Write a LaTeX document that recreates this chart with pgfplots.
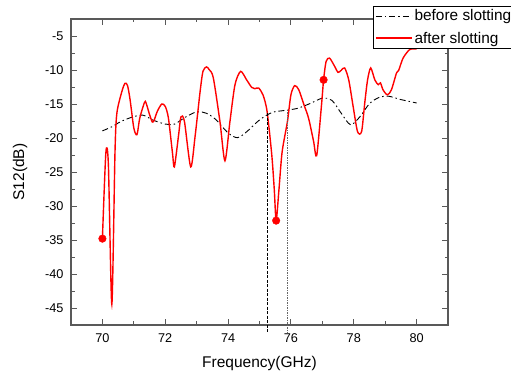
\documentclass[border=0pt]{standalone}
\usepackage{pgfplots}
\pgfplotsset{compat=1.18}
\usepackage{fontspec}
\setmainfont{Liberation Sans}
\definecolor{redline}{RGB}{255,0,0}
\begin{document}
\begin{tikzpicture}
\begin{axis}[
  scale only axis, width=377pt, height=306pt,
  xmin=69, xmax=81, ymin=-47.45, ymax=-2.45,
  xtick={70,72,...,80}, minor x tick num=1,
  ytick={-45,-40,...,-5}, minor y tick num=1,
  tick align=inside,
  major tick length=6pt, minor tick length=3.5pt,
  axis line style={draw=black!65, line width=1.2pt},
  every tick/.style={black!65, line width=0.9pt},
  /pgf/number format/assume math mode=true,
  ticklabel style={font=\fontsize{12.7}{14}\selectfont},
  xticklabel style={anchor=base, yshift=-17.7pt},
  yticklabel style={xshift=-4pt},
  xlabel={Frequency(GHz)}, ylabel={S12(dB)},
  every axis x label/.style={at={(axis description cs:0.5,0)}, yshift=-43pt, anchor=base, font=\fontsize{15.5}{18}\selectfont},
  every axis y label/.style={at={(axis description cs:0,0.5)}, xshift=-51pt, rotate=90, anchor=center, font=\fontsize{15.5}{18}\selectfont},
  clip=false,
  legend style={at={(0.801,1.0425)}, anchor=north west, font=\fontsize{15.4}{18}\selectfont,
     draw=black, inner xsep=2pt, inner ysep=1.5pt, nodes={inner sep=2pt}, row sep=5.5pt},
  legend image code/.code={\draw[#1] (0pt,0pt) -- (36pt,0pt);},
  legend cell align=left,
]
\addplot[black, line width=0.9pt, dash pattern=on 6pt off 3pt on 1.5pt off 3pt, smooth] coordinates {
(70.0,-18.9) (70.3,-18.3) (70.6,-17.5) (71.0,-16.8) (71.3,-16.6) (71.6,-17.3)
(72.0,-17.9) (72.3,-17.9) (72.6,-17.0) (73.0,-16.1) (73.3,-16.3) (73.6,-17.2)
(74.0,-19.2) (74.3,-19.9) (74.6,-19.0) (75.0,-17.3) (75.4,-16.2) (75.8,-15.9)
(76.2,-15.6) (76.6,-14.9) (77.0,-14.1) (77.3,-14.4) (77.6,-16.3) (77.9,-18.0)
(78.2,-16.8) (78.5,-14.9) (78.8,-14.0) (79.1,-13.8) (79.5,-14.3) (80.0,-14.8)
};
\addlegendentry{before slotting}
\addplot[redline, line width=1.4pt, smooth, tension=0.45] coordinates {
(70.00,-34.75) (70.11,-22.1) (70.19,-23.9) (70.30,-44.4) (70.40,-22.1) (70.46,-16.3)
(70.62,-13.1) (70.72,-11.9) (70.80,-12.25) (70.88,-14.3) (71.00,-18.5) (71.10,-19.45)
(71.19,-17.0) (71.34,-14.7) (71.39,-14.8) (71.50,-16.5) (71.59,-17.6) (71.65,-17.3)
(71.75,-16.0) (71.89,-14.95) (72.00,-15.3) (72.10,-17.0) (72.23,-22.15) (72.29,-24.2)
(72.42,-19.7) (72.50,-16.85) (72.61,-17.5) (72.81,-24.2) (72.95,-19.7) (73.11,-13.1)
(73.20,-10.15) (73.31,-9.5) (73.40,-9.9) (73.53,-11.1) (73.74,-17.5) (73.90,-23.3)
(74.06,-17.5) (74.22,-12.1) (74.40,-10.15) (74.59,-11.4) (74.75,-12.5) (74.85,-12.7)
(74.97,-12.6) (75.11,-13.6) (75.24,-16.0) (75.39,-22.4) (75.47,-27.5) (75.53,-32.1)
(75.62,-27.5) (75.72,-22.0) (75.89,-17.5) (76.00,-13.6) (76.12,-12.25) (76.25,-12.85)
(76.41,-15.0) (76.56,-17.0) (76.72,-20.4) (76.82,-22.55) (76.97,-15.3) (77.04,-11.4)
(77.12,-8.7) (77.23,-8.2) (77.39,-9.4) (77.50,-10.3) (77.60,-10.0) (77.71,-9.65)
(77.84,-11.4) (77.98,-15.3) (78.12,-19.0) (78.25,-19.0) (78.35,-14.8) (78.44,-11.4)
(78.54,-9.65) (78.67,-11.4) (78.78,-12.1) (78.85,-11.85) (78.93,-12.85) (79.07,-13.6)
(79.20,-12.85) (79.36,-10.4) (79.43,-10.0) (79.57,-8.2) (79.78,-6.95) (80.00,-6.85)
};
\addlegendentry{after slotting}
\addplot[redline, only marks, mark=*, mark size=3.8pt, forget plot] coordinates {
(70.00,-34.75) (75.53,-32.1) (77.04,-11.4)
};
\addplot[black, line width=0.7pt, dash pattern=on 3pt off 1.5pt, forget plot] coordinates {
(75.25,-16.3) (75.25,-48.6)
};
\addplot[black!60, line width=0.7pt, dash pattern=on 1.5pt off 1pt, forget plot] coordinates {
(75.89,-15.8) (75.89,-48.6)
};
\end{axis}
\pgfresetboundingbox
\path[use as bounding box] (current axis.south west) ++(-71pt,-49pt) rectangle ++(511pt,374pt);
\end{tikzpicture}
\end{document}
